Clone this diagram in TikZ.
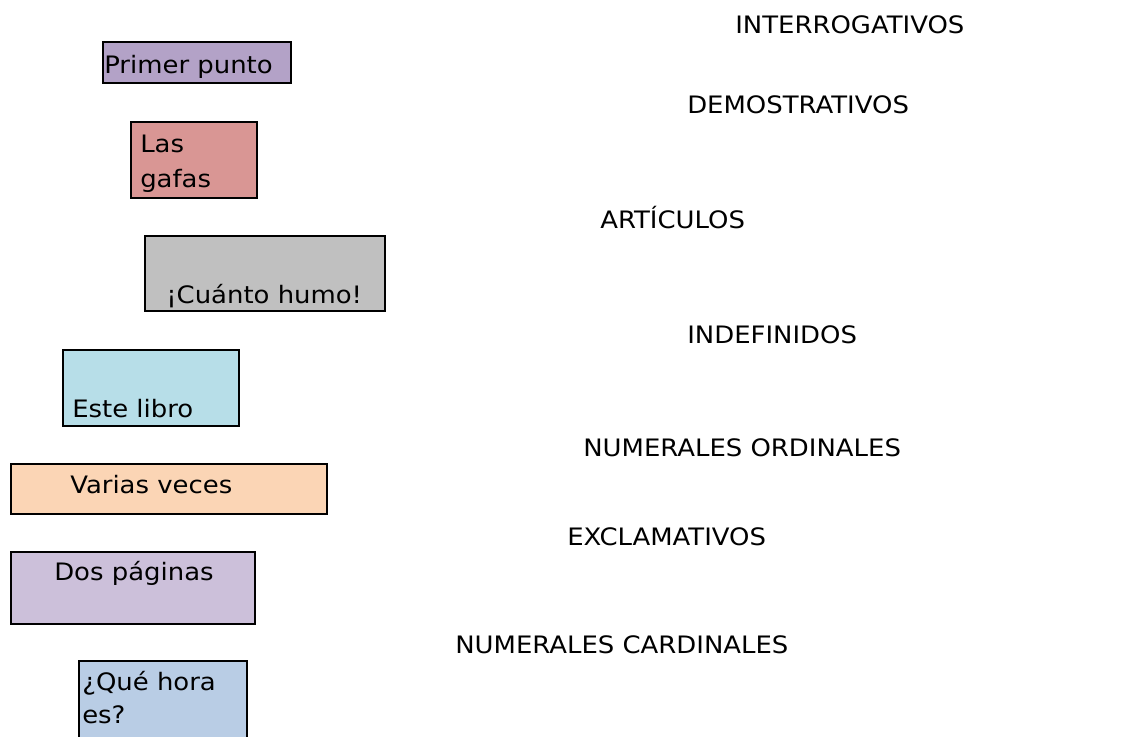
\documentclass[tikz,border=0pt]{standalone}
\usepackage{fontspec}
\setmainfont{DejaVu Sans}[FakeStretch=1.08]
\definecolor{lila}{HTML}{B3A2C7}
\definecolor{rosa}{HTML}{D99694}
\definecolor{gris}{HTML}{C0C0C0}
\definecolor{celeste}{HTML}{B7DEE8}
\definecolor{melocoton}{HTML}{FBD5B5}
\definecolor{malva}{HTML}{CCC0DA}
\definecolor{azulado}{HTML}{B9CDE5}
\begin{document}
\begin{tikzpicture}[x=0.75pt, y=-0.75pt,
    caja/.style = {draw, line width=1.5pt},
    rotulo/.style = {anchor=base west, inner sep=0pt, font=\fontsize{18}{21}\selectfont}]
  \useasboundingbox (0,0) rectangle (1132,736);
  \clip (0,0) rectangle (1132,736);
  % cajas de colores
  \foreach \x/\y/\xx/\yy/\c in {103/42/291/83/lila, 131/122/257/198/rosa, 145/236/385/311/gris, 63/350/239/426/celeste, 11/464/327/514/melocoton, 11/552/255/624/malva, 79/661/247/740/azulado} { \filldraw[caja, fill=\c] (\x,\y) rectangle (\xx,\yy); }
  \node[rotulo] (primer) at (104,73) {Primer punto};
  \node[rotulo] (las) at (140,152) {Las};
  \node[rotulo] (gafas) at (140,187) {gafas};
  \node[rotulo] (humo) at (166,303) {¡Cuánto humo!};
  \node[rotulo] (libro) at (72,417) {Este libro};
  \node[rotulo] (veces) at (70,493) {Varias veces};
  \node[rotulo] (paginas) at (54,580) {Dos páginas};
  \node[rotulo] (hora) at (82,690) {¿Qué hora};
  \node[rotulo] (es) at (82,723) {es?};
  % clases de determinantes
  \foreach \n/\x/\y/\t in {inter/735/33/INTERROGATIVOS, demos/687/113/DEMOSTRATIVOS, artic/600/228/ARTÍCULOS, indef/687/343/INDEFINIDOS, ordin/583/456/NUMERALES ORDINALES, exclam/567/545/EXCLAMATIVOS, cardin/455/653/NUMERALES CARDINALES} { \node[rotulo] (\n) at (\x,\y) {\t}; }
\end{tikzpicture}
\end{document}
